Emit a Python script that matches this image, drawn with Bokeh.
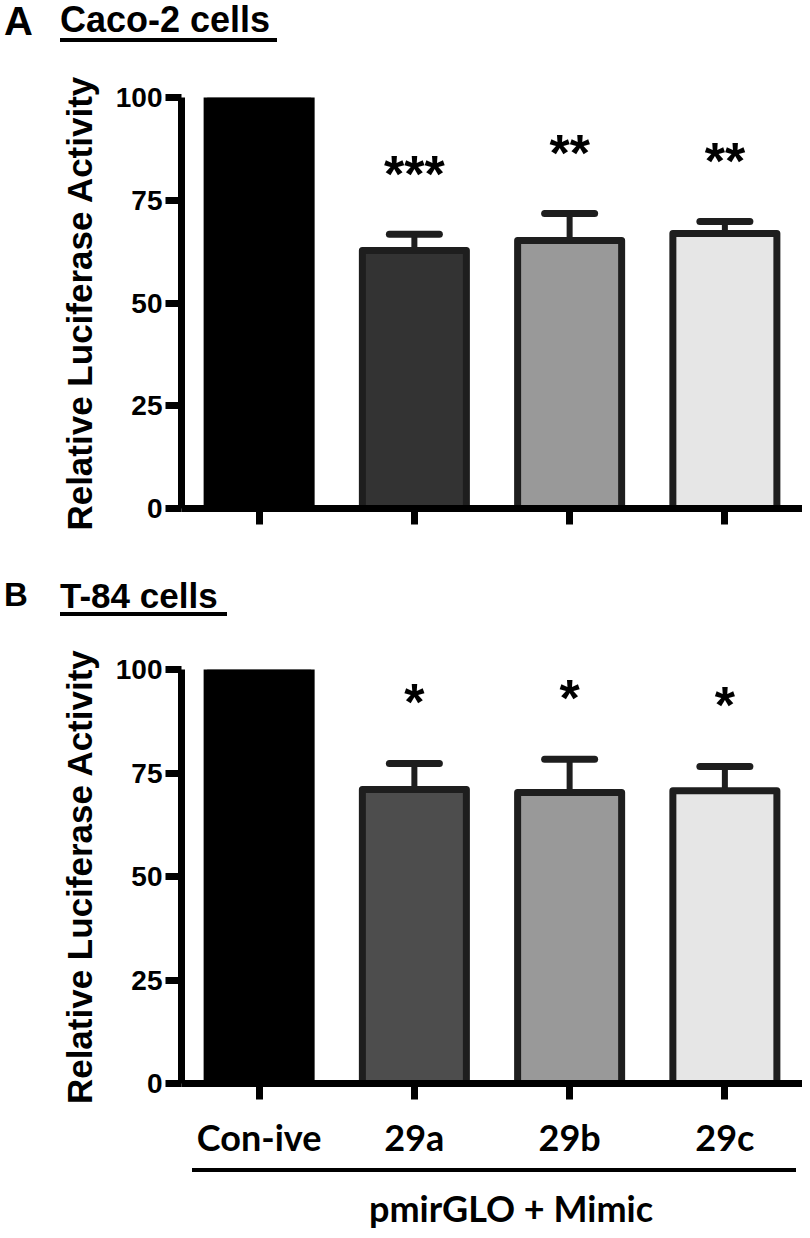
from bokeh.plotting import figure
from bokeh.models import (FactorRange, Range1d, FixedTicker, Whisker, TeeHead,
                          ColumnDataSource, Div)
from bokeh.layouts import column
from bokeh.embed import file_html
from bokeh.resources import INLINE
from bokeh.core.properties import value

# ---------------- data ----------------
categories = ["Con-ive", "29a", "29b", "29c"]
y_ticks = [0, 25, 50, 75, 100]

caco_mean = [100, 62.8, 65.2, 66.9]
caco_err = [0, 3.9, 6.6, 2.9]
caco_sig = ["", "***", "**", "**"]

t84_mean = [100, 71.0, 70.3, 70.7]
t84_err = [0, 6.3, 8.0, 5.9]
t84_sig = ["", "*", "*", "*"]

group_label = "pmirGLO + Mimic"
y_label = "Relative Luciferase Activity"
panel_letters = ["A", "B"]
panel_titles = ["Caco-2 cells", "T-84 cells"]

# ---------------- styles ----------------
caco_fill = ["#000000", "#333333", "#999999", "#e6e6e6"]
t84_fill = ["#000000", "#4d4d4d", "#999999", "#e6e6e6"]
bar_line = ["#000000", "#1e1e1e", "#1e1e1e", "#1e1e1e"]
DARK = "#1e1e1e"
SANS = "Liberation Sans"
HUMAN = "Lato"


def make_panel(mean, err, sig, fills, height, top, bottom, show_x_labels):
    p = figure(x_range=FactorRange(*categories), y_range=Range1d(0, 100),
               width=802, height=height,
               min_border_left=181, min_border_right=0,
               min_border_top=top, min_border_bottom=bottom,
               output_backend="svg", toolbar_location=None, tools="")
    p.outline_line_color = None
    p.grid.visible = False
    p.background_fill_color = "white"
    p.border_fill_color = "white"

    upper = [m + e for m, e in zip(mean, err)]
    src = ColumnDataSource(dict(cat=categories, mean=mean, upper=upper,
                                fill=fills, line=bar_line))
    p.vbar(x="cat", top="mean", bottom=0, width=0.67, source=src,
           fill_color="fill", line_color="line", line_width=7,
           line_join="round")

    wsrc = ColumnDataSource(dict(cat=categories[1:], lower=mean[1:],
                                 upper=upper[1:]))
    w = Whisker(base="cat", lower="lower", upper="upper", source=wsrc,
                line_width=6, line_color=DARK,
                upper_head=TeeHead(size=50, line_width=7, line_color=DARK,
                                   line_cap="round"),
                lower_head=None)
    p.add_layout(w)

    ssrc = ColumnDataSource(dict(cat=categories, y=[u + 14.8 for u in upper],
                                 sig=sig))
    p.text(x="cat", y="y", text="sig", source=ssrc,
           text_font=value(SANS), text_font_style="bold",
           text_font_size="52px", text_align="center",
           text_baseline="alphabetic", text_color="black")

    yax = p.yaxis[0]
    yax.ticker = FixedTicker(ticks=y_ticks)
    yax.axis_line_width = 7
    yax.axis_line_color = "black"
    yax.major_tick_line_width = 7
    yax.major_tick_line_color = "black"
    yax.major_tick_out = 16
    yax.major_tick_in = 0
    yax.minor_tick_line_color = None
    yax.major_label_text_font = SANS
    yax.major_label_text_font_style = "bold"
    yax.major_label_text_font_size = "28px"
    yax.major_label_text_color = "black"
    yax.major_label_standoff = 3
    yax.axis_label = y_label
    yax.axis_label_text_font = SANS
    yax.axis_label_text_font_style = "bold"
    yax.axis_label_text_font_size = "35px"
    yax.axis_label_text_color = "black"
    yax.axis_label_standoff = 14

    xax = p.xaxis[0]
    xax.axis_line_width = 7
    xax.axis_line_color = "black"
    xax.major_tick_line_width = 7
    xax.major_tick_line_color = "black"
    xax.major_tick_out = 16
    xax.major_tick_in = 0
    xax.major_label_text_font = HUMAN
    xax.major_label_text_font_style = "bold"
    xax.major_label_text_font_size = "36px"
    xax.major_label_standoff = 15
    xax.major_label_text_color = "black" if show_x_labels else None
    return p


def title_div(letter, title, letter_top, letter_size, title_top, title_size,
              line_top, line_width):
    html = (
        '<div style="position:relative;width:810px;height:60px;'
        "font-family:'Liberation Sans';font-weight:bold;color:black;\">"
        f'<div style="position:absolute;left:4px;top:{letter_top}px;'
        f'font-size:{letter_size}px;line-height:1;">{letter}</div>'
        f'<div style="position:absolute;left:60px;top:{title_top}px;'
        f'font-size:{title_size}px;line-height:1;white-space:nowrap;">{title}</div>'
        f'<div style="position:absolute;left:60px;top:{line_top}px;'
        f'width:{line_width}px;height:4px;background:black;"></div>'
        '</div>'
    )
    return Div(text=html, width=810, height=60, margin=0)


divA = title_div(panel_letters[0], panel_titles[0], 1, 40, 2, 36, 38, 217)
pA = make_panel(caco_mean, caco_err, caco_sig, caco_fill, 514, 37, 66, False)
divB = title_div(panel_letters[1], panel_titles[1], 4, 33, 4, 35, 38, 167)
pB = make_panel(t84_mean, t84_err, t84_sig, t84_fill, 533, 35, 84, True)

bottom_html = (
    '<div style="position:relative;width:810px;height:71px;">'
    '<div style="position:absolute;left:192px;top:1px;width:604px;'
    'height:4px;background:black;"></div>'
    '<div style="position:absolute;left:311px;top:23px;width:400px;'
    "text-align:center;font-family:'Lato';font-weight:bold;font-size:36px;"
    f'line-height:1;color:black;white-space:nowrap;">{group_label}</div>'
    '</div>'
)
divBottom = Div(text=bottom_html, width=810, height=71, margin=0)

layout = column(divA, pA, divB, pB, divBottom, spacing=0)
open("out.html", "w").write(file_html(layout, INLINE))
